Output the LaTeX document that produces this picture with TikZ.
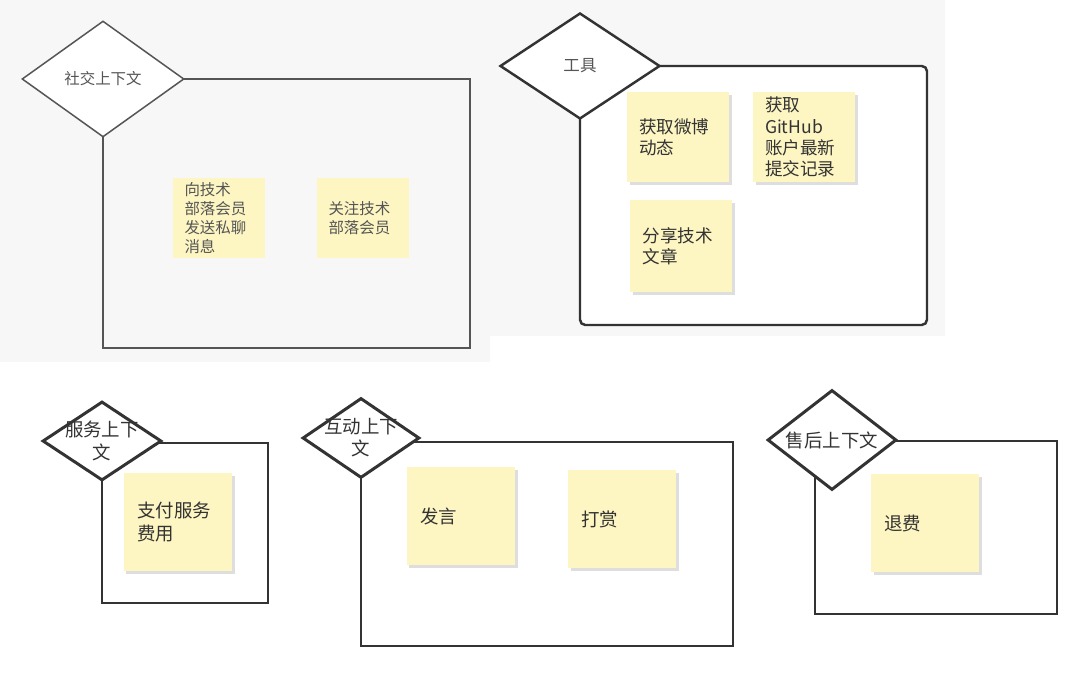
\documentclass[tikz,border=0pt]{standalone}
\usepackage{fontspec}
\setmainfont{Noto Sans CJK SC}
\usetikzlibrary{shapes.geometric,shadows}
\definecolor{paper}{HTML}{F7F7F7}
\definecolor{stickyfill}{HTML}{FDF5C2}
\definecolor{inkgray}{HTML}{555555}
\definecolor{inkdark}{HTML}{333333}

\begin{document}
\begin{tikzpicture}[x=0.02cm, y=-0.02cm,
  ctx/.style={diamond, draw=inkdark, line width=1.7pt, fill=white, inner sep=0pt},
  ctxtext/.style={text=inkdark, align=center, inner sep=0pt, font=\fontsize{10.5}{12.6}\selectfont},
  frame/.style={draw=inkdark, line width=1.7pt, fill=white},
  sticky/.style={rectangle, fill=stickyfill, inner sep=0pt, align=left, text=inkdark,
    general shadow={fill=black!13, shadow xshift=1.7pt, shadow yshift=-1.7pt}},
  smallsticky/.style={sticky, minimum width=2.18cm, minimum height=1.96cm, text width=1.62cm,
    font=\fontsize{10.5}{13.2}\selectfont}
]
\useasboundingbox (0,0) rectangle (1080,678);
% grey screenshot behind the two upper parts
\fill[paper] (0,0) -- (945,0) -- (945,336) -- (490,336) -- (490,362) -- (0,362) -- cycle;

% social context
\coordinate (socialc) at (103,79);
\draw[draw=inkgray, line width=0.85pt] (socialc) rectangle (470,348);
\node[diamond, draw=inkgray, line width=0.85pt, fill=white, inner sep=0pt,
  minimum width=3.24cm, minimum height=2.32cm,
  label={[text=inkgray, font=\fontsize{8.8}{10.8}\selectfont]center:社交上下文}] (social) at (socialc) {};
\node[rectangle, fill=stickyfill, inner sep=0pt, align=left, text=inkgray,
  minimum width=1.84cm, minimum height=1.62cm, text width=1.38cm,
  font=\fontsize{8.8}{10.9}\selectfont] (message) at (219,218) {向技术\\部落会员\\发送私聊\\消息};
\node[rectangle, fill=stickyfill, inner sep=0pt, align=left, text=inkgray,
  minimum width=1.84cm, minimum height=1.62cm, text width=1.38cm,
  font=\fontsize{8.8}{10.9}\selectfont] (follow) at (363,218) {关注技术\\部落会员};

% tools
\coordinate (toolc) at (580,66);
\draw[draw=inkdark, line width=1.4pt, fill=white, rounded corners=3pt] (toolc) rectangle (927,325);
\node[ctx, line width=1.4pt, minimum width=3.2cm, minimum height=2.12cm,
  label={[ctxtext, text=inkgray, font=\fontsize{9.4}{11}\selectfont]center:工具}] (tool) at (toolc) {};
\node[sticky, minimum width=2.04cm, minimum height=1.8cm, text width=1.56cm,
  font=\fontsize{10}{12.1}\selectfont] (weibo) at (678,137) {获取微博\\动态};
\node[sticky, minimum width=2.04cm, minimum height=1.8cm, text width=1.56cm,
  font=\fontsize{10}{12.1}\selectfont] (github) at (804,137) {获取\\GitHub\\账户最新\\提交记录};
\node[sticky, minimum width=2.06cm, minimum height=1.84cm, text width=1.54cm,
  font=\fontsize{10}{12.1}\selectfont] (share) at (681,246) {分享技术\\文章};

% service context
\coordinate (servicec) at (102,443);
\draw[frame] (servicec) rectangle (268,603);
\node[ctx, minimum width=2.38cm, minimum height=1.58cm,
  label={[ctxtext]center:服务上下\\文}] (service) at (102,441) {};
\node[smallsticky] (pay) at (178,522) {支付服务\\费用};

% interaction context
\coordinate (interactc) at (361,442);
\draw[frame] (interactc) rectangle (733,646);
\node[ctx, minimum width=2.34cm, minimum height=1.6cm,
  label={[ctxtext]center:互动上下\\文}] (interact) at (361,438) {};
\node[smallsticky] (speak) at (461,516) {发言};
\node[smallsticky] (reward) at (622,519) {打赏};

% after-sale context
\coordinate (afterc) at (815,441);
\draw[frame] (afterc) rectangle (1057,614);
\node[ctx, minimum width=2.58cm, minimum height=2cm,
  label={[ctxtext]center:售后上下文}] (aftersale) at (832,440) {};
\node[smallsticky] (refund) at (925,523) {退费};

\end{tikzpicture}
\end{document}
